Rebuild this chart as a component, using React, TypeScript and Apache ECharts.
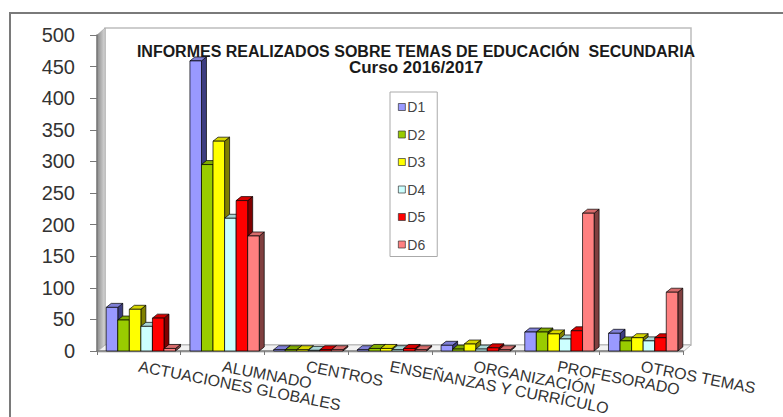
import React, { useEffect, useRef } from "react";
import * as echarts from "echarts";

const categories = [
  "ACTUACIONES GLOBALES",
  "ALUMNADO",
  "CENTROS",
  "ENSEÑANZAS Y CURRÍCULO",
  "ORGANIZACIÓN",
  "PROFESORADO",
  "OTROS TEMAS",
];
const seriesNames = ["D1", "D2", "D3", "D4", "D5", "D6"];
const d1 = [69, 459, 2, 2, 9, 30, 28];
const d2 = [49, 295, 2, 4, 3, 30, 16];
const d3 = [66, 332, 2, 4, 11, 27, 21];
const d4 = [39, 210, 1, 2, 3, 19, 16];
const d5 = [52, 238, 2, 4, 5, 32, 21];
const d6 = [4, 182, 2, 2, 2, 218, 93];
const seriesValues = [d1, d2, d3, d4, d5, d6];
const yTicks = { min: 0, max: 500, interval: 50 };

const frontColors = ["#9999FF", "#99CC00", "#FFFF00", "#CCFFFF", "#FF0000", "#FF8080"];
const topColors = ["#7F7FD6", "#80AA00", "#D6D600", "#AAD6D6", "#D60000", "#D66B6B"];
const sideColors = ["#3C3C80", "#4D6600", "#808000", "#668080", "#800000", "#803F3F"];

const GL = 97;
const GT = 35;
const GR = 100;
const GB = 65;
const W = 783;
const H = 417;
const WALL_DX = 8;
const WALL_DY = 7;

export default function App() {
  const ref = useRef<HTMLDivElement>(null);
  useEffect(() => {
    if (!ref.current) return;
    const chart = echarts.init(ref.current, null, { renderer: "svg" });
    const gx0 = GL;
    const gx1 = W - GR;
    const gy0 = GT;
    const gy1 = H - GB;

    const makeRender = (si: number) => (params: any, api: any) => {
      const cat = api.value(0);
      const val = api.value(1);
      const band = api.size([1, 0])[0];
      const base = api.coord([cat, 0]);
      const top = api.coord([cat, val]);
      const bw = band * 0.138;
      const x0 = base[0] - band / 2 + band * 0.11 + si * bw;
      const dx = 5;
      const dy = 4;
      const yT = top[1];
      const yB = base[1];
      const stroke = { stroke: "#000", lineWidth: 0.7 };
      return {
        type: "group",
        children: [
          {
            type: "polygon",
            shape: {
              points: [
                [x0 + bw, yT],
                [x0 + bw + dx, yT - dy],
                [x0 + bw + dx, yB - dy],
                [x0 + bw, yB],
              ],
            },
            style: { fill: sideColors[si], ...stroke },
          },
          {
            type: "polygon",
            shape: {
              points: [
                [x0, yT],
                [x0 + dx, yT - dy],
                [x0 + bw + dx, yT - dy],
                [x0 + bw, yT],
              ],
            },
            style: { fill: topColors[si], ...stroke },
          },
          {
            type: "rect",
            shape: { x: x0, y: yT, width: bw, height: Math.max(yB - yT, 0) },
            style: { fill: frontColors[si], ...stroke },
          },
        ],
      };
    };

    chart.setOption({
      animation: false,
      backgroundColor: "#ffffff",
      textStyle: { fontFamily: "Liberation Sans, Arial, sans-serif" },
      title: {
        text: "INFORMES REALIZADOS SOBRE TEMAS DE EDUCACIÓN  SECUNDARIA",
        subtext: "Curso 2016/2017",
        left: 416,
        textAlign: "center",
        top: 43,
        itemGap: 0,
        padding: 0,
        textStyle: { fontSize: 16, fontWeight: "bold", color: "#1a1a1a" },
        subtextStyle: { fontSize: 17, fontWeight: "bold", color: "#1a1a1a" },
      },
      legend: {
        orient: "vertical",
        left: 390,
        top: 92,
        width: 57,
        padding: [8, 12, 5, 8],
        itemGap: 13.5,
        itemWidth: 7,
        itemHeight: 7,
        icon: "rect",
        borderColor: "#aaaaaa",
        borderWidth: 1,
        textStyle: { fontSize: 14, color: "#444", padding: [0, 0, 0, -3] },
        data: seriesNames.map((n, i) => ({
          name: n,
          itemStyle: { color: frontColors[i], borderColor: "#333", borderWidth: 0.7 },
        })),
      },
      graphic: [
        {
          type: "rect",
          shape: { x: 10, y: 13, width: 800, height: 420 },
          style: { fill: "none", stroke: "#7a7a7a", lineWidth: 2 },
          z: -10,
        },
        {
          type: "rect",
          shape: {
            x: gx0 + WALL_DX,
            y: gy0 - WALL_DY,
            width: gx1 - gx0,
            height: gy1 - gy0,
          },
          style: { fill: "#ffffff", stroke: "#bdbdbd", lineWidth: 1.5 },
          z: -5,
        },
        {
          type: "polygon",
          shape: {
            points: [
              [gx0, gy0],
              [gx0 + WALL_DX, gy0 - WALL_DY],
              [gx0 + WALL_DX, gy1 - WALL_DY],
              [gx0, gy1],
            ],
          },
          style: {
            fill: new echarts.graphic.LinearGradient(0, 0, 1, 0, [
              { offset: 0, color: "#8a8a8a" },
              { offset: 1, color: "#d8d8d8" },
            ]),
            stroke: "#999",
            lineWidth: 0.5,
          },
          z: -4,
        },
        {
          type: "polygon",
          shape: {
            points: [
              [gx0, gy1],
              [gx0 + WALL_DX, gy1 - WALL_DY],
              [gx1 + WALL_DX, gy1 - WALL_DY],
              [gx1, gy1],
            ],
          },
          style: { fill: "#f2f2f2", stroke: "#aaaaaa", lineWidth: 0.8 },
          z: -4,
        },
      ],
      grid: { left: GL, top: GT, right: GR, bottom: GB, containLabel: false },
      xAxis: {
        type: "category",
        data: categories,
        axisLine: { show: true, lineStyle: { color: "#777", width: 1.5 } },
        axisTick: { show: true, length: 4, lineStyle: { color: "#777" } },
        axisLabel: {
          interval: 0,
          rotate: -11,
          margin: 15,
          fontSize: 16,
          color: "#333",
        },
        splitLine: { show: false },
      },
      yAxis: {
        type: "value",
        min: yTicks.min,
        max: yTicks.max,
        interval: yTicks.interval,
        axisLine: { show: true, lineStyle: { color: "#777", width: 1.5 } },
        axisTick: { show: true, length: 7, lineStyle: { color: "#777" } },
        axisLabel: { fontSize: 20, color: "#333", margin: 22 },
        splitLine: { show: false },
      },
      series: seriesNames.map((name, si) => ({
        name,
        type: "custom",
        renderItem: makeRender(si),
        itemStyle: { color: frontColors[si] },
        encode: { x: 0, y: 1 },
        data: seriesValues[si].map((v, ci) => [ci, v]),
        z: 2,
      })),
    });
    return () => chart.dispose();
  }, []);
  return (
    <div
      ref={ref}
      style={{ position: "fixed", left: 0, top: 0, width: W, height: H }}
    />
  );
}
